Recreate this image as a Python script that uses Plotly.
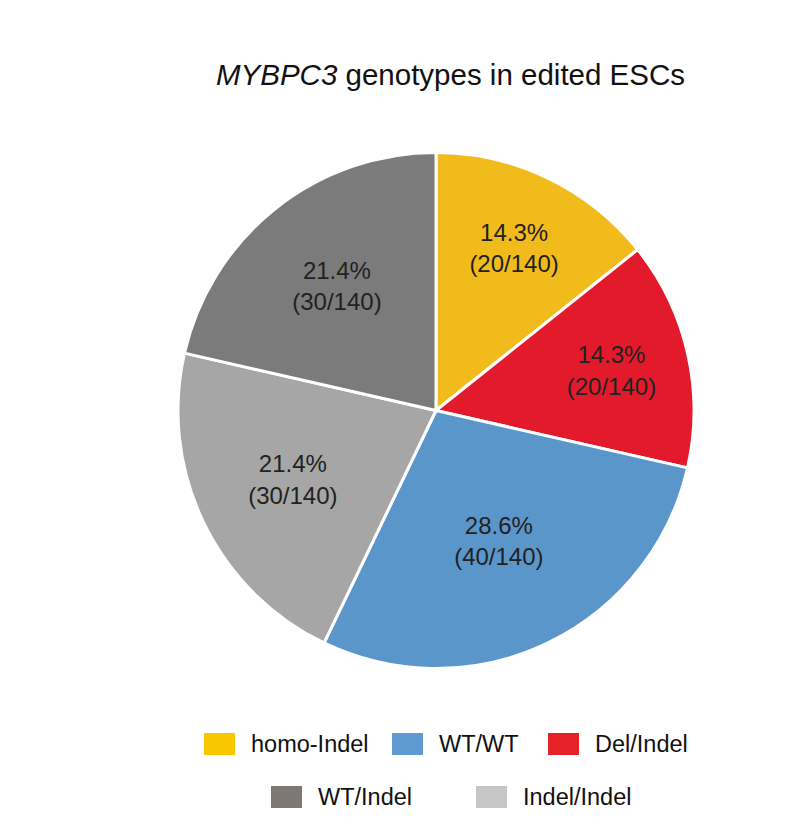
import plotly.graph_objects as go

# ---- data ----
labels = ["homo-Indel", "Del/Indel", "WT/WT", "Indel/Indel", "WT/Indel"]
counts = [20, 20, 40, 30, 30]
total = 140
slice_colors = ["#F2BB1C", "#E31A2B", "#5B96CB", "#A6A6A6", "#7B7B7B"]

legend_order = ["homo-Indel", "WT/WT", "Del/Indel", "WT/Indel", "Indel/Indel"]
legend_colors = ["#F9C700", "#5F9AD3", "#E42227", "#7D7873", "#C6C6C6"]

# page body has an 8px margin; work in window coordinates
OFF = 8
W, H = 808 - OFF, 833 - OFF
cx, cy, R = 436 - OFF, 410.5 - OFF, 258

text = [f"{c/total*100:.1f}%<br>({c}/{total})" for c in counts]

fig = go.Figure(go.Pie(
    labels=labels, values=counts, sort=False, direction="clockwise", rotation=0,
    marker=dict(colors=slice_colors, line=dict(color="white", width=3)),
    text=text, textinfo="text", textposition="inside",
    insidetextorientation="horizontal",
    textfont=dict(family="Liberation Sans, Arial", size=24, color="#222222"),
    domain=dict(x=[(cx - R) / W, (cx + R) / W], y=[(H - cy - R) / H, (H - cy + R) / H]),
    showlegend=False, hoverinfo="label+value",
))

shapes = []
annotations = []
# title
annotations.append(dict(
    x=(450 - OFF) / W, y=1 - (75 - OFF) / H, xref="paper", yref="paper",
    xanchor="center", yanchor="middle",
    text="<i>MYBPC3</i> genotypes in edited ESCs", showarrow=False,
    font=dict(family="Liberation Sans, Arial", size=29.5, color="#111111")))

# manual legend
leg_pos = [(204, 744), (392, 744), (548, 744), (271, 797), (476, 797)]
for (lx, ly), name, col in zip(leg_pos, legend_order, legend_colors):
    lx -= OFF
    ly -= OFF
    shapes.append(dict(type="rect", xref="paper", yref="paper",
                       x0=lx / W, x1=(lx + 31) / W, y0=1 - (ly + 11) / H, y1=1 - (ly - 11) / H,
                       fillcolor=col, line=dict(width=0)))
    annotations.append(dict(x=(lx + 45) / W, y=1 - ly / H, xref="paper", yref="paper",
                            xanchor="left", yanchor="middle", text=name, showarrow=False,
                            font=dict(family="Liberation Sans, Arial", size=23.5, color="#111111")))

fig.update_layout(width=W, height=H, margin=dict(l=0, r=0, t=0, b=0),
                  paper_bgcolor="white", plot_bgcolor="white",
                  shapes=shapes, annotations=annotations)
fig.write_html("out.html")
